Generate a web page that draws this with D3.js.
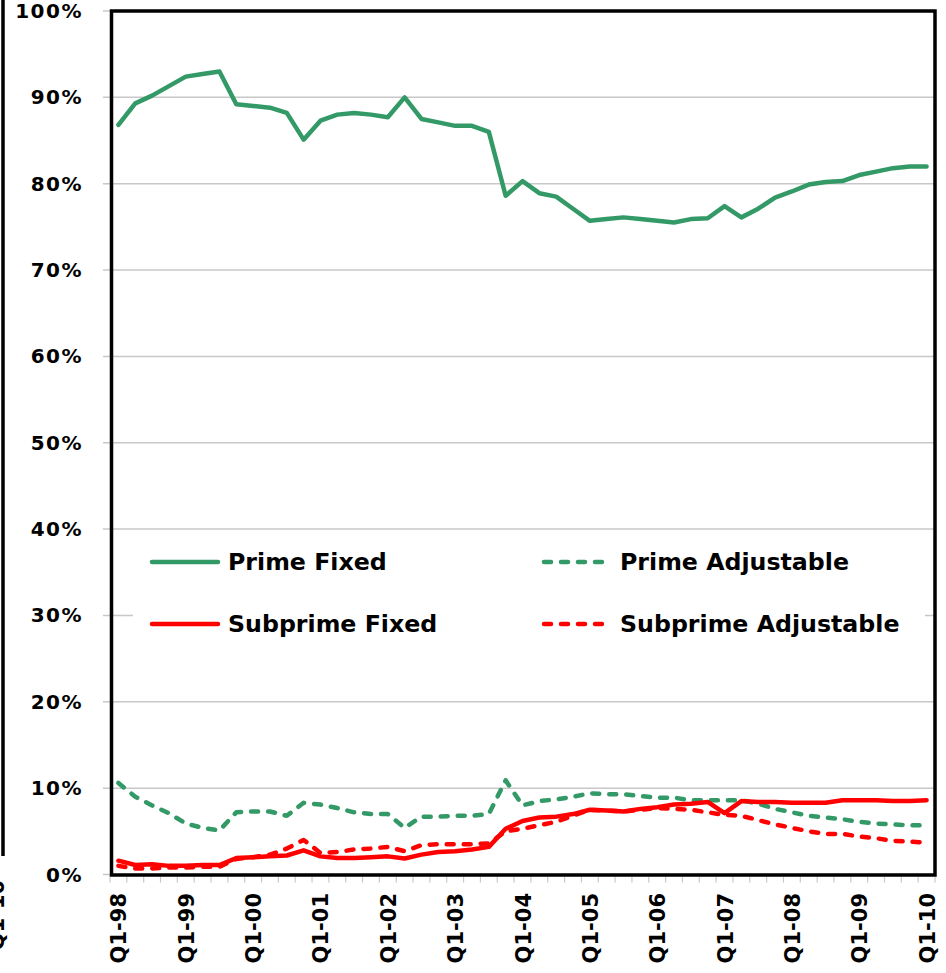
<!DOCTYPE html>
<html><head><meta charset="utf-8">
<script src="https://cdn.jsdelivr.net/npm/d3@7/dist/d3.min.js"></script>
<style>
html,body{margin:0;padding:0;background:#fff;}
svg{display:block;}
text{font-family:"DejaVu Sans",Verdana,sans-serif;font-weight:bold;fill:#000;}
</style></head>
<body>
<svg id="chart" width="946" height="973"></svg>
<script>
// Quarters Q1-98 .. Q1-10 (49 quarters)
const years = ["98","99","00","01","02","03","04","05","06","07","08","09","10"];
const quarters = [];
years.forEach((y, i) => {
  for (let q = 1; q <= 4; q++) {
    if (i === years.length - 1 && q > 1) break;
    quarters.push("Q" + q + "-" + y);
  }
});
const xTickLabels = years.map(y => "Q1-" + y);
const yTickValues = [0,10,20,30,40,50,60,70,80,90,100];

const primeFixed = [86.8,89.3,90.2,91.3,92.4,92.7,93.0,89.2,89.0,88.8,88.2,85.1,87.3,88.0,88.2,88.0,87.7,90.0,87.5,87.1,86.7,86.7,86.0,78.6,80.3,78.9,78.5,77.1,75.7,75.9,76.1,75.9,75.7,75.5,75.9,76.0,77.4,76.1,77.1,78.4,79.1,79.9,80.2,80.3,81.0,81.4,81.8,82.0,82.0];
const primeAdjustable = [10.6,9.0,8.0,7.1,5.9,5.4,5.1,7.2,7.3,7.3,6.8,8.3,8.1,7.7,7.2,7.0,7.0,5.4,6.7,6.7,6.8,6.8,7.0,10.9,8.0,8.5,8.7,9.0,9.4,9.3,9.3,9.1,8.9,8.9,8.6,8.6,8.6,8.6,8.2,7.6,7.2,6.8,6.6,6.4,6.1,5.9,5.8,5.7,5.7];
const subprimeFixed = [1.6,1.1,1.2,1.0,1.0,1.1,1.1,1.9,2.0,2.1,2.2,2.8,2.1,1.9,1.9,2.0,2.1,1.85,2.3,2.6,2.7,2.9,3.2,5.3,6.2,6.6,6.7,7.0,7.5,7.4,7.3,7.6,7.8,8.1,8.2,8.4,7.1,8.5,8.4,8.4,8.3,8.3,8.3,8.6,8.6,8.6,8.5,8.5,8.6];
const subprimeAdjustable = [1.0,0.7,0.7,0.8,0.8,0.9,0.9,1.8,2.0,2.3,3.0,4.0,2.5,2.6,2.9,3.0,3.2,2.7,3.4,3.5,3.5,3.5,3.6,5.0,5.3,5.7,6.1,6.8,7.5,7.4,7.3,7.5,7.7,7.6,7.5,7.2,6.9,6.8,6.3,5.8,5.4,5.0,4.7,4.7,4.4,4.2,3.9,3.8,3.7];

const seriesNames = ["Prime Fixed","Prime Adjustable","Subprime Fixed","Subprime Adjustable"];
const seriesColors = ["#339966","#339966","#ff0000","#ff0000"];
const seriesDashed = [false,true,false,true];
const seriesValues = [primeFixed, primeAdjustable, subprimeFixed, subprimeAdjustable];

const svg = d3.select("#chart");
const L = 110, R = 935, T = 11, B = 874.5;

const x = d3.scaleBand().domain(quarters).range([L, R]).paddingInner(0).paddingOuter(0);
const y = d3.scaleLinear().domain([0, 100]).range([B, T]);
const xc = q => x(q) + x.bandwidth() / 2;

// left artifact (cropped neighbouring chart)
svg.append("line").attr("x1",3).attr("x2",3).attr("y1",0).attr("y2",856)
  .attr("stroke","#000").attr("stroke-width",3.5);
svg.append("text").attr("transform","translate(-3,880) rotate(-90)")
  .attr("text-anchor","end").attr("dominant-baseline","central")
  .style("font-size","21px").text("Q1-10");

// gridlines
svg.append("g").selectAll("line").data(yTickValues).join("line")
  .attr("x1", L - 7).attr("x2", R).attr("y1", d => y(d)).attr("y2", d => y(d))
  .attr("stroke", "#c8c8c8").attr("stroke-width", 1.5);

// y labels
svg.append("g").selectAll("text").data(yTickValues).join("text")
  .attr("x", 83).attr("y", d => y(d)).attr("text-anchor","end")
  .attr("dominant-baseline","central").style("font-size","20px")
  .style("letter-spacing","1.5px").text(d => d + "%");

// x ticks (every quarter boundary)
const tickPos = quarters.map(q => x(q)).concat([R]);
svg.append("g").selectAll("line").data(tickPos).join("line")
  .attr("x1", d => d).attr("x2", d => d).attr("y1", B + 2).attr("y2", B + 8)
  .attr("stroke", "#c8c8c8").attr("stroke-width", 1.2);

// x labels
svg.append("g").selectAll("text").data(xTickLabels).join("text")
  .attr("transform", d => `translate(${xc(d)+1},893) rotate(-90)`)
  .attr("text-anchor","end").attr("dominant-baseline","central")
  .style("font-size","21px").text(d => d);

// lines
const lineGen = d3.line().x((d, i) => xc(quarters[i])).y(d => y(d));
seriesValues.forEach((vals, k) => {
  svg.append("path").datum(vals).attr("d", lineGen)
    .attr("fill","none").attr("stroke", seriesColors[k]).attr("stroke-width", 4.5)
    .attr("stroke-linejoin","round")
    .attr("stroke-linecap","round")
    .attr("stroke-dasharray", seriesDashed[k] ? "7,10" : null);
});

// legend
svg.append("rect").attr("x",133).attr("y",537).attr("width",792).attr("height",113).attr("fill","#fff");
const legPos = [[150,562],[542,562],[150,624],[542,624]];
seriesNames.forEach((n, k) => {
  const [lx, ly] = legPos[k];
  svg.append("line").attr("x1", lx + 2).attr("x2", lx + 68).attr("y1", ly).attr("y2", ly)
    .attr("stroke", seriesColors[k]).attr("stroke-width", 4.5).attr("stroke-linecap","round")
    .attr("stroke-dasharray", seriesDashed[k] ? "7,10" : null);
  svg.append("text").attr("x", lx + 78).attr("y", ly).attr("dominant-baseline","central")
    .style("font-size","23.7px").text(n);
});

// frame
svg.append("rect").attr("x", L + 1.5).attr("y", T).attr("width", R - L - 1.5).attr("height", B - T + 0.5)
  .attr("fill","none").attr("stroke","#000").attr("stroke-width",3.5);
</script>
</body></html>
